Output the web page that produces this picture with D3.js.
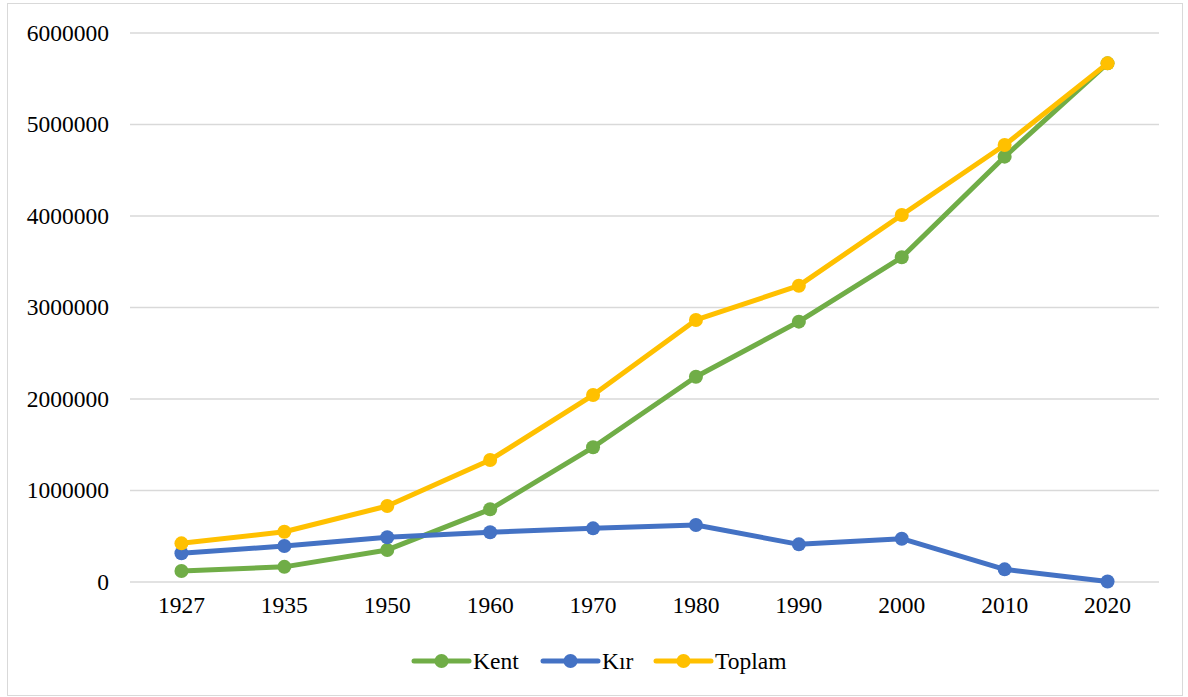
<!DOCTYPE html>
<html>
<head>
<meta charset="utf-8">
<script src="https://cdn.jsdelivr.net/npm/d3@7"></script>
<style>
  html, body { margin: 0; padding: 0; background: #fff; }
  svg { display: block; }
</style>
</head>
<body>
<svg id="chart" width="1188" height="697"></svg>
<script>
// Population by year: urban (Kent), rural (Kır) and total (Toplam)
const years = ["1927", "1935", "1950", "1960", "1970", "1980", "1990", "2000", "2010", "2020"];
const kent   = [115000, 160000, 345000, 789000, 1467000, 2238000, 2840000, 3543000, 4643000, 5663000];
const kir    = [308000, 388000, 483000, 538000, 581000, 617000, 406000, 468000, 133000, 0];
const toplam = [417000, 544000, 825000, 1328000, 2038000, 2858000, 3233000, 4005000, 4770000, 5663000];
const yTicks = [0, 1000000, 2000000, 3000000, 4000000, 5000000, 6000000];
const seriesNames = ["Kent", "Kır", "Toplam"];
const seriesColors = ["#70AD47", "#4472C4", "#FFC000"];

const series = [kent, kir, toplam].map((vals, i) => ({
  name: seriesNames[i],
  color: seriesColors[i],
  values: vals.map((v, j) => ({ year: years[j], value: v }))
}));

const svg = d3.select("#chart");
const plot = { left: 130, right: 1159, top: 32.5, bottom: 581.5 };
const font = "'Liberation Serif', 'Times New Roman', serif";
const fontSize = 23.5;

// outer chart border
svg.append("rect")
  .attr("x", 7.5).attr("y", 3.5)
  .attr("width", 1175).attr("height", 692)
  .attr("fill", "#fff")
  .attr("stroke", "#D9D9D9")
  .attr("stroke-width", 1);

const x = d3.scaleBand().domain(years).range([plot.left, plot.right]);
const y = d3.scaleLinear().domain([0, 6000000]).range([plot.bottom, plot.top]);

// horizontal gridlines + y labels
const yAxis = d3.axisLeft(y)
  .tickValues(yTicks)
  .tickSize(-(plot.right - plot.left))
  .tickPadding(21)
  .tickFormat(d3.format("d"));

const gy = svg.append("g")
  .attr("transform", `translate(${plot.left},0)`)
  .call(yAxis);
gy.select(".domain").remove();
gy.selectAll(".tick line").attr("stroke", "#D9D9D9").attr("stroke-width", 1.5);
gy.selectAll(".tick text")
  .attr("font-family", font)
  .attr("font-size", fontSize)
  .attr("fill", "#000");

// x category labels
const xAxis = d3.axisBottom(x).tickSize(0).tickPadding(15);
const gx = svg.append("g")
  .attr("transform", `translate(0,${plot.bottom})`)
  .call(xAxis);
gx.select(".domain").remove();
gx.selectAll(".tick text")
  .attr("font-family", font)
  .attr("font-size", fontSize)
  .attr("fill", "#000");

const cx = d => x(d.year) + x.bandwidth() / 2;
const line = d3.line().x(cx).y(d => y(d.value));

const gs = svg.append("g").selectAll("g.series")
  .data(series)
  .join("g")
  .attr("class", "series");

gs.append("path")
  .attr("d", d => line(d.values))
  .attr("fill", "none")
  .attr("stroke", d => d.color)
  .attr("stroke-width", 5)
  .attr("stroke-linejoin", "round")
  .attr("stroke-linecap", "round");

gs.selectAll("circle")
  .data(d => d.values.map(v => ({ ...v, color: d.color })))
  .join("circle")
  .attr("cx", cx)
  .attr("cy", d => y(d.value))
  .attr("r", 7)
  .attr("fill", d => d.color);

// legend
const legendX = [414, 543, 656];
const legendY = 661;
const lg = svg.append("g").selectAll("g")
  .data(series)
  .join("g")
  .attr("transform", (d, i) => `translate(${legendX[i]},${legendY})`);

lg.append("line")
  .attr("x1", 0).attr("x2", 55)
  .attr("y1", 0).attr("y2", 0)
  .attr("stroke", d => d.color)
  .attr("stroke-width", 5)
  .attr("stroke-linecap", "round");
lg.append("circle")
  .attr("cx", 27.5).attr("cy", 0).attr("r", 7)
  .attr("fill", d => d.color);
lg.append("text")
  .attr("x", 59).attr("y", 0)
  .attr("dy", "0.35em")
  .attr("font-family", font)
  .attr("font-size", fontSize)
  .attr("fill", "#000")
  .text(d => d.name);
</script>
</body>
</html>
